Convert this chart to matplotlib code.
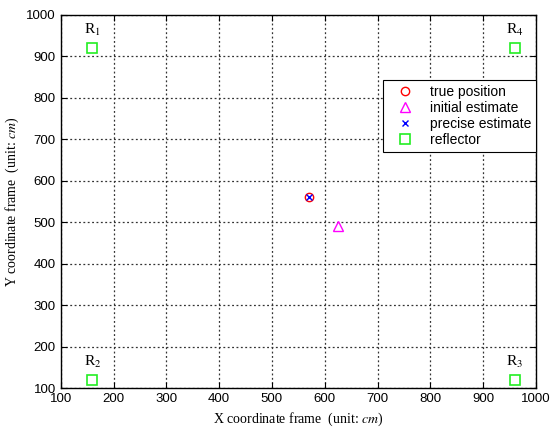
import numpy as np
import matplotlib.pyplot as plt

# reflector positions (cm)
refl_x = [160, 160, 960, 960]
refl_y = [920, 120, 120, 920]
refl_names = ['R$_1$', 'R$_2$', 'R$_3$', 'R$_4$']

true_pos = (570, 560)
initial_est = (625, 490)
precise_est = (570, 560)

fig = plt.figure(figsize=(5.52, 4.28), dpi=100)
ax = fig.add_axes([0.11, 0.093, 0.861, 0.872])

ax.plot(true_pos[0], true_pos[1], 'o', mfc='none', mec='red', ms=6, mew=1, label='true position')
ax.plot(initial_est[0], initial_est[1], '^', mfc='none', mec='magenta', ms=7, mew=1, label='initial estimate')
ax.plot(precise_est[0], precise_est[1], 'x', color='blue', ms=4, mew=1, label='precise estimate')
ax.plot(refl_x, refl_y, 's', mfc='none', mec='#22ee22', ms=7, mew=1.2, ls='none', label='reflector')

for x, y, n in zip(refl_x, refl_y, refl_names):
    ax.text(x, y + 25, n, ha='center', va='bottom', fontsize=11,
            family='Liberation Serif', math_fontfamily='stix')

ax.set_xlim(100, 1000)
ax.set_ylim(100, 1000)
ax.set_xticks(np.arange(100, 1001, 100))
ax.set_yticks(np.arange(100, 1001, 100))
ax.grid(True, color='#333333', ls=(0, (1.5, 2)), lw=0.9)
ax.tick_params(direction='in', labelsize=9.5, length=4, top=True, right=True)
for lab in ax.get_xticklabels() + ax.get_yticklabels():
    lab.set_family('Liberation Sans')
for s in ax.spines.values():
    s.set_linewidth(1)

ax.set_xlabel('X coordinate frame  (unit: $cm$)', family='Liberation Serif', fontsize=10,
              math_fontfamily='stix')
ax.set_ylabel('Y coordinate frame  (unit: $cm$)', family='Liberation Serif', fontsize=10,
              math_fontfamily='stix')

leg = ax.legend(loc='upper right', bbox_to_anchor=(1.0, 0.826), borderaxespad=0,
                prop={'family': 'Liberation Sans', 'size': 10}, fancybox=False,
                edgecolor='black', framealpha=1, handlelength=2.4, handletextpad=0.6,
                labelspacing=0.15, borderpad=0.35)
leg.get_frame().set_linewidth(0.8)

fig.savefig('out.png', dpi=100)
